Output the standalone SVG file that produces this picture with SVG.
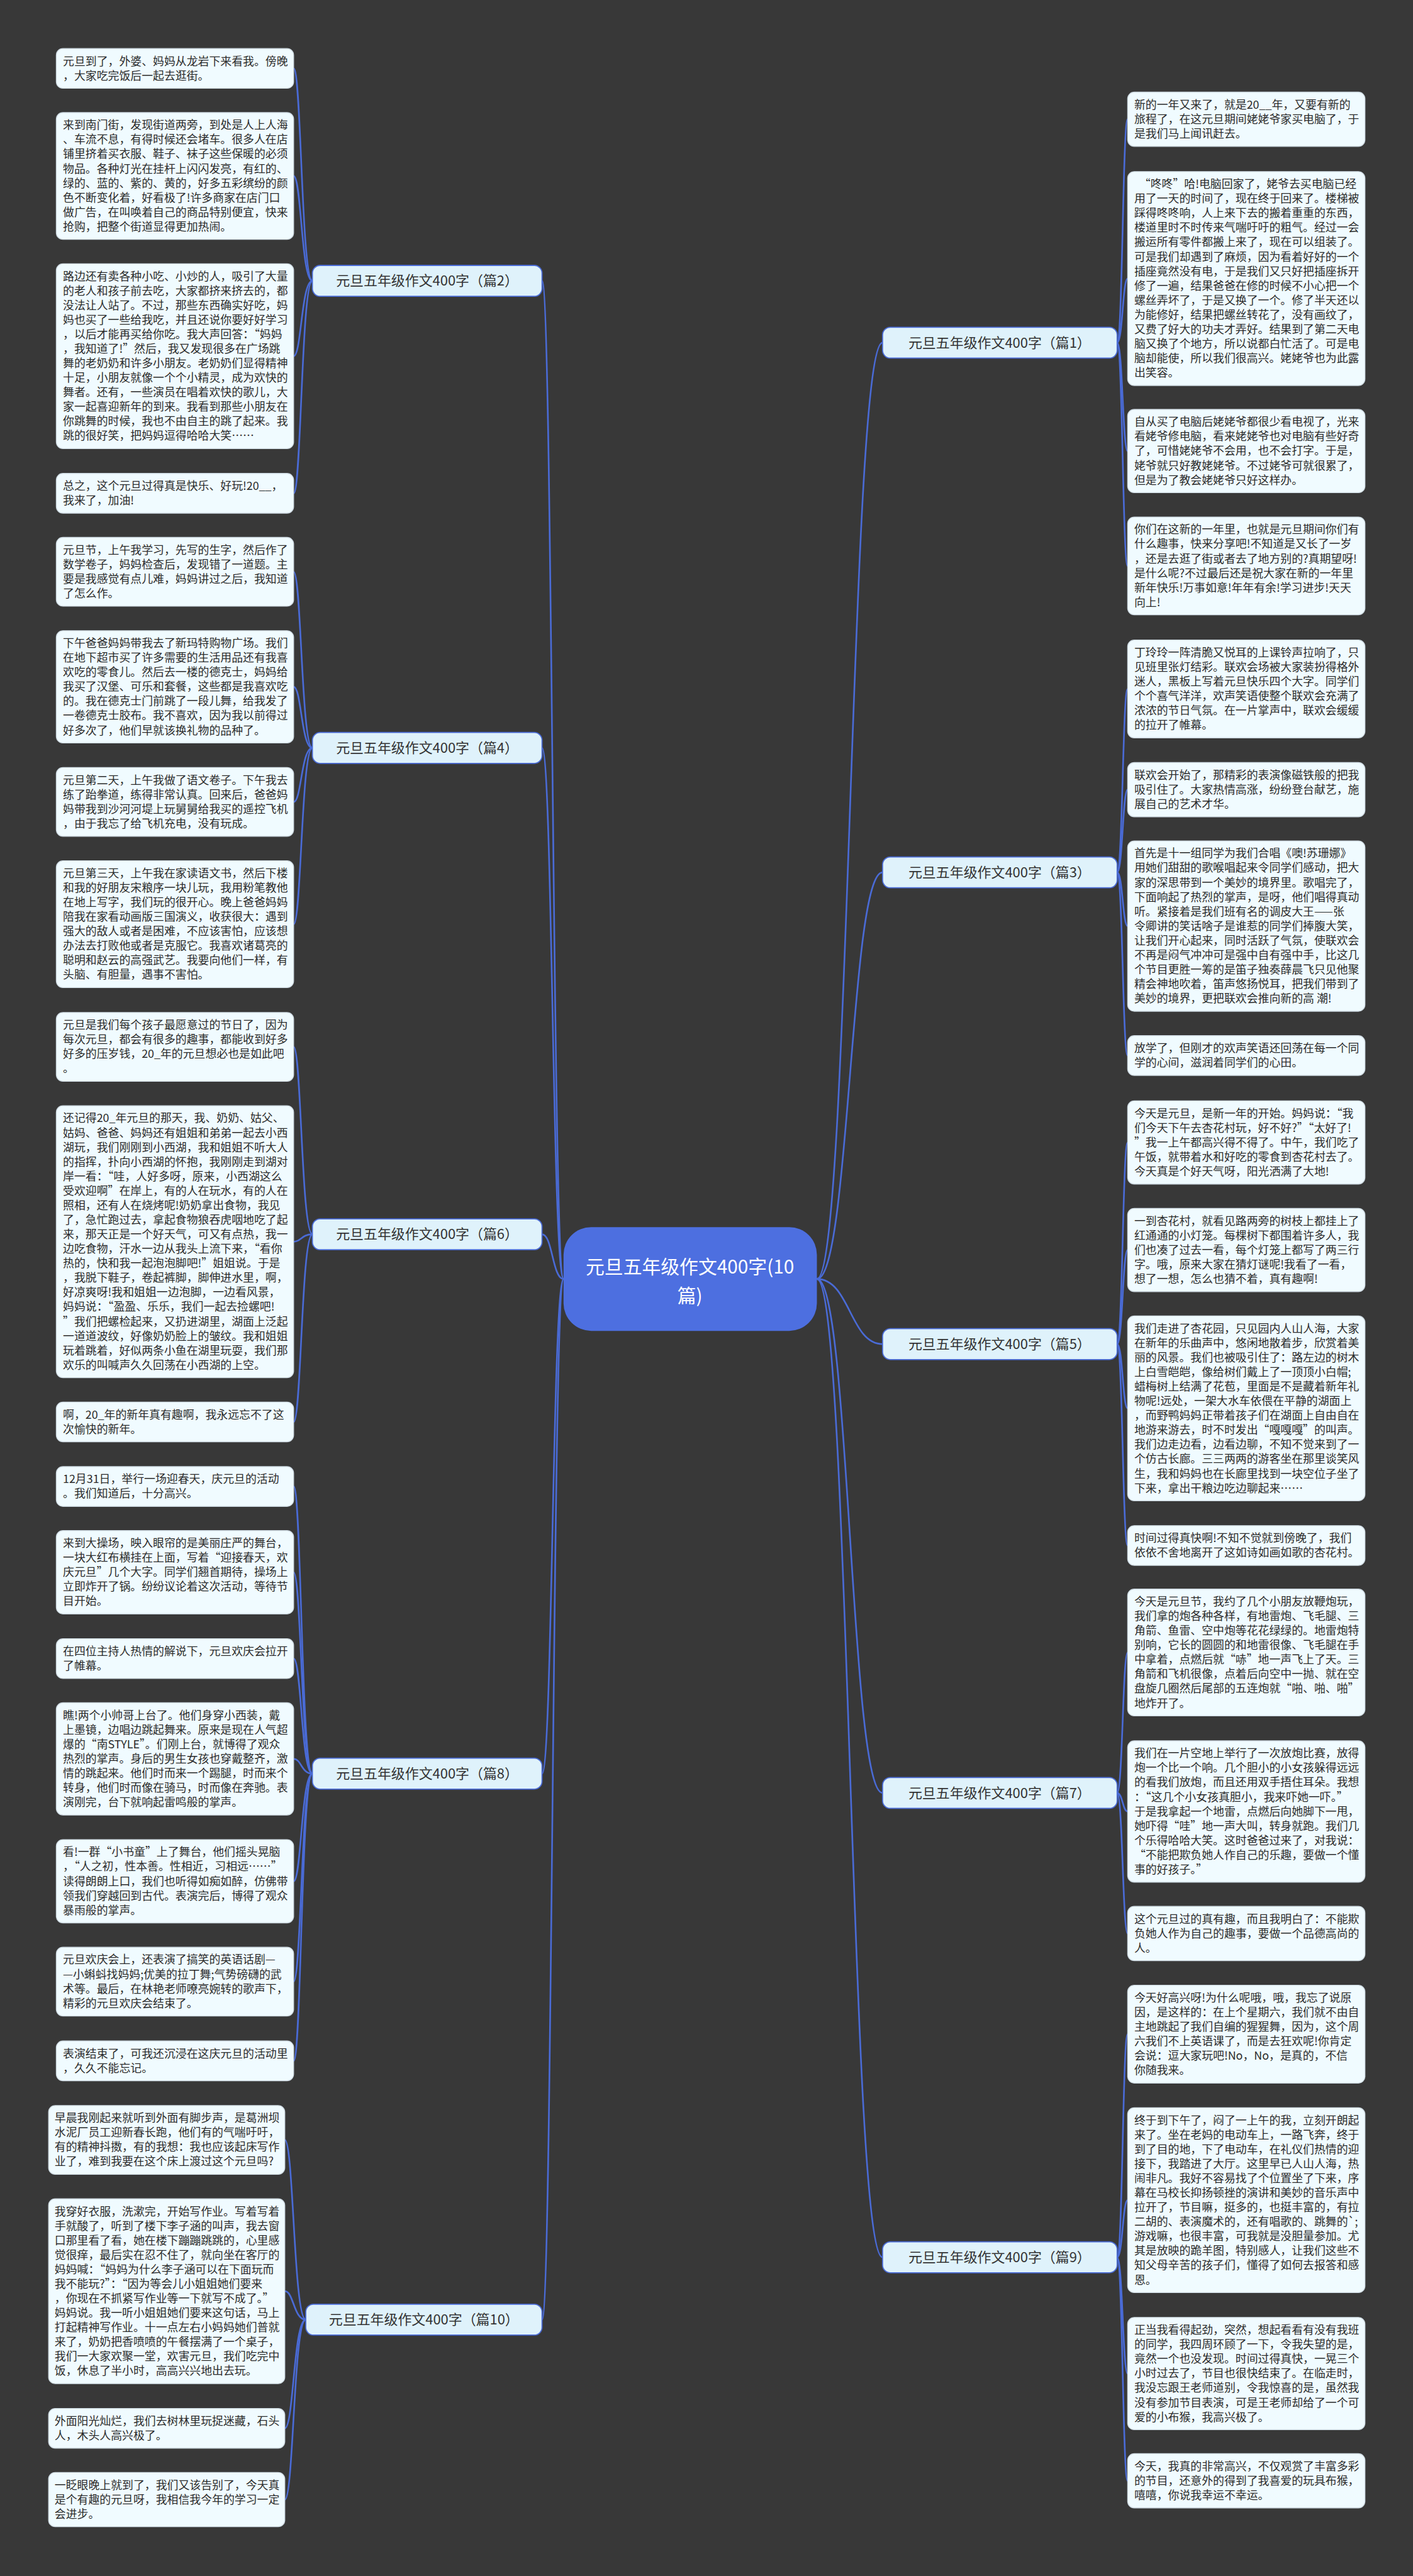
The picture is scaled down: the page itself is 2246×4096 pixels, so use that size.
<svg xmlns="http://www.w3.org/2000/svg" width="2246" height="4096" viewBox="0 0 2246 4096">
<style>
.bg{fill:#383838}
.leaf rect{fill:#f0fbff;stroke:#cfdbe3;stroke-width:1.5}
.t{font-family:"Noto Sans CJK SC","Noto Sans",sans-serif;font-size:20.4px;fill:#2b2b2b}
.pill rect{fill:#dff2fb;stroke:#4a6bd6;stroke-width:2}
.pt{font-family:"Noto Sans CJK SC","Noto Sans",sans-serif;font-size:25px;fill:#333;text-anchor:middle}
.ct{font-family:"Noto Sans CJK SC","Noto Sans",sans-serif;font-size:34px;fill:#fff;text-anchor:middle}
.conn path{fill:none;stroke:#4a6bd6;stroke-width:3}
</style>
<rect class="bg" x="0" y="0" width="2246" height="4096"/>
<g transform="scale(0.87734)">
<g class="conn" id="connectors">
<!-- center to pills -->
<path d="M1021 2318 C1001 2318 1001 509 982 509"/>
<path d="M1021 2318 C1001 2318 1001 1355.5 982 1355.5"/>
<path d="M1021 2318 C1001 2318 1001 2237 982 2237"/>
<path d="M1021 2318 C1001 2318 1001 3214.5 982 3214.5"/>
<path d="M1021 2318 C1001 2318 1001 4204 982 4204"/>
<path d="M1480 2318 C1540 2318 1540 621 1599 621"/>
<path d="M1480 2318 C1540 2318 1540 1581 1599 1581"/>
<path d="M1480 2318 C1540 2318 1540 2436 1599 2436"/>
<path d="M1480 2318 C1540 2318 1540 3249.5 1599 3249.5"/>
<path d="M1480 2318 C1540 2318 1540 4091 1599 4091"/>
<!-- left leaves -->
<path d="M566 509 C546 509 546 124 532 124"/>
<path d="M566 509 C546 509 546 319 532 319"/>
<path d="M566 509 C546 509 546 645.5 532 645.5"/>
<path d="M566 509 C546 509 546 894 532 894"/>
<path d="M566 1355.5 C546 1355.5 546 1036.4 532 1036.4"/>
<path d="M566 1355.5 C546 1355.5 546 1244.8 532 1244.8"/>
<path d="M566 1355.5 C546 1355.5 546 1453.4 532 1453.4"/>
<path d="M566 1355.5 C546 1355.5 546 1675 532 1675"/>
<path d="M566 2237 C546 2237 546 1897.4 532 1897.4"/>
<path d="M566 2237 C546 2237 546 2250.5 532 2250.5"/>
<path d="M566 2237 C546 2237 546 2577 532 2577"/>
<path d="M566 3214.5 C546 3214.5 546 2694 532 2694"/>
<path d="M566 3214.5 C546 3214.5 546 2849.5 532 2849.5"/>
<path d="M566 3214.5 C546 3214.5 546 3006 532 3006"/>
<path d="M566 3214.5 C546 3214.5 546 3187.8 532 3187.8"/>
<path d="M566 3214.5 C546 3214.5 546 3409.5 532 3409.5"/>
<path d="M566 3214.5 C546 3214.5 546 3591.4 532 3591.4"/>
<path d="M566 3214.5 C546 3214.5 546 3735 532 3735"/>
<path d="M554 4204 C532 4204 532 3878.4 516 3878.4"/>
<path d="M554 4204 C532 4204 532 4152.5 516 4152.5"/>
<path d="M554 4204 C532 4204 532 4401 516 4401"/>
<path d="M554 4204 C532 4204 532 4530.2 516 4530.2"/>
<!-- right leaves -->
<path d="M2024 621 C2034 621 2034 216.2 2043 216.2"/>
<path d="M2024 621 C2034 621 2034 504.9 2043 504.9"/>
<path d="M2024 621 C2034 621 2034 817.5 2043 817.5"/>
<path d="M2024 621 C2034 621 2034 1025.7 2043 1025.7"/>
<path d="M2024 1581 C2034 1581 2034 1248.7 2043 1248.7"/>
<path d="M2024 1581 C2034 1581 2034 1431.2 2043 1431.2"/>
<path d="M2024 1581 C2034 1581 2034 1678.4 2043 1678.4"/>
<path d="M2024 1581 C2034 1581 2034 1913 2043 1913"/>
<path d="M2024 2436 C2034 2436 2034 2070.5 2043 2070.5"/>
<path d="M2024 2436 C2034 2436 2034 2265.5 2043 2265.5"/>
<path d="M2024 2436 C2034 2436 2034 2552.5 2043 2552.5"/>
<path d="M2024 2436 C2034 2436 2034 2801 2043 2801"/>
<path d="M2024 3249.5 C2034 3249.5 2034 2995 2043 2995"/>
<path d="M2024 3249.5 C2034 3249.5 2034 3283.1 2043 3283.1"/>
<path d="M2024 3249.5 C2034 3249.5 2034 3504.2 2043 3504.2"/>
<path d="M2024 4091 C2034 4091 2034 3686.7 2043 3686.7"/>
<path d="M2024 4091 C2034 4091 2034 3987.5 2043 3987.5"/>
<path d="M2024 4091 C2034 4091 2034 4301.8 2043 4301.8"/>
<path d="M2024 4091 C2034 4091 2034 4496.2 2043 4496.2"/>
</g>

<g id="center">
<rect x="1021" y="2224" width="459" height="188" rx="50" fill="#4d6fe0"/>
<text class="ct" x="1250" y="2308">元旦五年级作文400字(10</text>
<text class="ct" x="1250" y="2360">篇)</text>
</g>

<g id="b2" class="pill"><rect x="566" y="481" width="416" height="56" rx="14"/><text class="pt" x="774" y="518">元旦五年级作文400字（篇2）</text></g>
<g id="b4" class="pill"><rect x="566" y="1327.5" width="416" height="56" rx="14"/><text class="pt" x="774" y="1364.5">元旦五年级作文400字（篇4）</text></g>
<g id="b6" class="pill"><rect x="566" y="2209" width="416" height="56" rx="14"/><text class="pt" x="774" y="2246">元旦五年级作文400字（篇6）</text></g>
<g id="b8" class="pill"><rect x="566" y="3186.5" width="416" height="56" rx="14"/><text class="pt" x="774" y="3223.5">元旦五年级作文400字（篇8）</text></g>
<g id="b10" class="pill"><rect x="554" y="4176" width="428" height="56" rx="14"/><text class="pt" x="768" y="4213">元旦五年级作文400字（篇10）</text></g>
<g id="b1" class="pill"><rect x="1599" y="593" width="425" height="56" rx="14"/><text class="pt" x="1811" y="630">元旦五年级作文400字（篇1）</text></g>
<g id="b3" class="pill"><rect x="1599" y="1553" width="425" height="56" rx="14"/><text class="pt" x="1811" y="1590">元旦五年级作文400字（篇3）</text></g>
<g id="b5" class="pill"><rect x="1599" y="2408" width="425" height="56" rx="14"/><text class="pt" x="1811" y="2445">元旦五年级作文400字（篇5）</text></g>
<g id="b7" class="pill"><rect x="1599" y="3221.5" width="425" height="56" rx="14"/><text class="pt" x="1811" y="3258.5">元旦五年级作文400字（篇7）</text></g>
<g id="b9" class="pill"><rect x="1599" y="4063" width="425" height="56" rx="14"/><text class="pt" x="1811" y="4100">元旦五年级作文400字（篇9）</text></g>

<!-- LEFT LEAVES -->
<g id="l2-1" class="leaf"><rect x="102" y="88" width="430" height="72.1" rx="12"/><text class="t" x="114" y="118"><tspan x="114">元旦到了，外婆、妈妈从龙岩下来看我。傍晚</tspan><tspan x="114" dy="26.3">，大家吃完饭后一起去逛街。</tspan></text></g>
<g id="l2-2" class="leaf"><rect x="102" y="204" width="430" height="229.9" rx="12"/><text class="t" x="114" y="234"><tspan x="114">来到南门街，发现街道两旁，到处是人上人海</tspan><tspan x="114" dy="26.3">、车流不息，有得时候还会堵车。很多人在店</tspan><tspan x="114" dy="26.3">铺里挤着买衣服、鞋子、袜子这些保暖的必须</tspan><tspan x="114" dy="26.3">物品。各种灯光在挂杆上闪闪发亮，有红的、</tspan><tspan x="114" dy="26.3">绿的、蓝的、紫的、黄的，好多五彩缤纷的颜</tspan><tspan x="114" dy="26.3">色不断变化着，好看极了!许多商家在店门口</tspan><tspan x="114" dy="26.3">做广告，在叫唤着自己的商品特别便宜，快来</tspan><tspan x="114" dy="26.3">抢购，把整个街道显得更加热闹。</tspan></text></g>
<g id="l2-3" class="leaf"><rect x="102" y="478" width="430" height="335.1" rx="12"/><text class="t" x="114" y="508"><tspan x="114">路边还有卖各种小吃、小炒的人，吸引了大量</tspan><tspan x="114" dy="26.3">的老人和孩子前去吃，大家都挤来挤去的，都</tspan><tspan x="114" dy="26.3">没法让人站了。不过，那些东西确实好吃，妈</tspan><tspan x="114" dy="26.3">妈也买了一些给我吃，并且还说你要好好学习</tspan><tspan x="114" dy="26.3">，以后才能再买给你吃。我大声回答：“妈妈</tspan><tspan x="114" dy="26.3">，我知道了!”然后，我又发现很多在广场跳</tspan><tspan x="114" dy="26.3">舞的老奶奶和许多小朋友。老奶奶们显得精神</tspan><tspan x="114" dy="26.3">十足，小朋友就像一个个小精灵，成为欢快的</tspan><tspan x="114" dy="26.3">舞者。还有，一些演员在唱着欢快的歌儿，大</tspan><tspan x="114" dy="26.3">家一起喜迎新年的到来。我看到那些小朋友在</tspan><tspan x="114" dy="26.3">你跳舞的时候，我也不由自主的跳了起来。我</tspan><tspan x="114" dy="26.3">跳的很好笑，把妈妈逗得哈哈大笑……</tspan></text></g>
<g id="l2-4" class="leaf"><rect x="102" y="858" width="430" height="72.1" rx="12"/><text class="t" x="114" y="888"><tspan x="114">总之，这个元旦过得真是快乐、好玩!20__，</tspan><tspan x="114" dy="26.3">我来了，加油!</tspan></text></g>

<g id="l4-1" class="leaf"><rect x="102" y="974" width="430" height="124.7" rx="12"/><text class="t" x="114" y="1004"><tspan x="114">元旦节，上午我学习，先写的生字，然后作了</tspan><tspan x="114" dy="26.3">数学卷子，妈妈检查后，发现错了一道题。主</tspan><tspan x="114" dy="26.3">要是我感觉有点儿难，妈妈讲过之后，我知道</tspan><tspan x="114" dy="26.3">了怎么作。</tspan></text></g>
<g id="l4-2" class="leaf"><rect x="102" y="1143" width="430" height="203.6" rx="12"/><text class="t" x="114" y="1173"><tspan x="114">下午爸爸妈妈带我去了新玛特购物广场。我们</tspan><tspan x="114" dy="26.3">在地下超市买了许多需要的生活用品还有我喜</tspan><tspan x="114" dy="26.3">欢吃的零食儿。然后去一楼的德克士，妈妈给</tspan><tspan x="114" dy="26.3">我买了汉堡、可乐和套餐，这些都是我喜欢吃</tspan><tspan x="114" dy="26.3">的。我在德克士门前跳了一段儿舞，给我发了</tspan><tspan x="114" dy="26.3">一卷德克士胶布。我不喜欢，因为我以前得过</tspan><tspan x="114" dy="26.3">好多次了，他们早就该换礼物的品种了。</tspan></text></g>
<g id="l4-3" class="leaf"><rect x="102" y="1391" width="430" height="124.7" rx="12"/><text class="t" x="114" y="1421"><tspan x="114">元旦第二天，上午我做了语文卷子。下午我去</tspan><tspan x="114" dy="26.3">练了跆拳道，练得非常认真。回来后，爸爸妈</tspan><tspan x="114" dy="26.3">妈带我到沙河河堤上玩舅舅给我买的遥控飞机</tspan><tspan x="114" dy="26.3">，由于我忘了给飞机充电，没有玩成。</tspan></text></g>
<g id="l4-4" class="leaf"><rect x="102" y="1560" width="430" height="229.9" rx="12"/><text class="t" x="114" y="1590"><tspan x="114">元旦第三天，上午我在家读语文书，然后下楼</tspan><tspan x="114" dy="26.3">和我的好朋友宋粮序一块儿玩，我用粉笔教他</tspan><tspan x="114" dy="26.3">在地上写字，我们玩的很开心。晚上爸爸妈妈</tspan><tspan x="114" dy="26.3">陪我在家看动画版三国演义，收获很大：遇到</tspan><tspan x="114" dy="26.3">强大的敌人或者是困难，不应该害怕，应该想</tspan><tspan x="114" dy="26.3">办法去打败他或者是克服它。我喜欢诸葛亮的</tspan><tspan x="114" dy="26.3">聪明和赵云的高强武艺。我要向他们一样，有</tspan><tspan x="114" dy="26.3">头脑、有胆量，遇事不害怕。</tspan></text></g>

<g id="l6-1" class="leaf"><rect x="102" y="1835" width="430" height="124.7" rx="12"/><text class="t" x="114" y="1865"><tspan x="114">元旦是我们每个孩子最愿意过的节日了，因为</tspan><tspan x="114" dy="26.3">每次元旦，都会有很多的趣事，都能收到好多</tspan><tspan x="114" dy="26.3">好多的压岁钱，20_年的元旦想必也是如此吧</tspan><tspan x="114" dy="26.3">。</tspan></text></g>
<g id="l6-2" class="leaf"><rect x="102" y="2004" width="430" height="492.9" rx="12"/><text class="t" x="114" y="2034"><tspan x="114">还记得20_年元旦的那天，我、奶奶、姑父、</tspan><tspan x="114" dy="26.3">姑妈、爸爸、妈妈还有姐姐和弟弟一起去小西</tspan><tspan x="114" dy="26.3">湖玩，我们刚刚到小西湖，我和姐姐不听大人</tspan><tspan x="114" dy="26.3">的指挥，扑向小西湖的怀抱，我刚刚走到湖对</tspan><tspan x="114" dy="26.3">岸一看：“哇，人好多呀，原来，小西湖这么</tspan><tspan x="114" dy="26.3">受欢迎啊”在岸上，有的人在玩水，有的人在</tspan><tspan x="114" dy="26.3">照相，还有人在烧烤呢!奶奶拿出食物，我见</tspan><tspan x="114" dy="26.3">了，急忙跑过去，拿起食物狼吞虎咽地吃了起</tspan><tspan x="114" dy="26.3">来，那天正是一个好天气，可又有点热，我一</tspan><tspan x="114" dy="26.3">边吃食物，汗水一边从我头上流下来，“看你</tspan><tspan x="114" dy="26.3">热的，快和我一起泡泡脚吧!”姐姐说。于是</tspan><tspan x="114" dy="26.3">，我脱下鞋子，卷起裤脚，脚伸进水里，啊，</tspan><tspan x="114" dy="26.3">好凉爽呀!我和姐姐一边泡脚，一边看风景，</tspan><tspan x="114" dy="26.3">妈妈说：“盈盈、乐乐，我们一起去捡螺吧!</tspan><tspan x="114" dy="26.3">”我们把螺检起来，又扔进湖里，湖面上泛起</tspan><tspan x="114" dy="26.3">一道道波纹，好像奶奶脸上的皱纹。我和姐姐</tspan><tspan x="114" dy="26.3">玩着跳着，好似两条小鱼在湖里玩耍，我们那</tspan><tspan x="114" dy="26.3">欢乐的叫喊声久久回荡在小西湖的上空。</tspan></text></g>
<g id="l6-3" class="leaf"><rect x="102" y="2541" width="430" height="72.1" rx="12"/><text class="t" x="114" y="2571"><tspan x="114">啊，20_年的新年真有趣啊，我永远忘不了这</tspan><tspan x="114" dy="26.3">次愉快的新年。</tspan></text></g>

<g id="l8-1" class="leaf"><rect x="102" y="2658" width="430" height="72.1" rx="12"/><text class="t" x="114" y="2688"><tspan x="114">12月31日，举行一场迎春天，庆元旦的活动</tspan><tspan x="114" dy="26.3">。我们知道后，十分高兴。</tspan></text></g>
<g id="l8-2" class="leaf"><rect x="102" y="2774" width="430" height="151" rx="12"/><text class="t" x="114" y="2804"><tspan x="114">来到大操场，映入眼帘的是美丽庄严的舞台，</tspan><tspan x="114" dy="26.3">一块大红布横挂在上面，写着“迎接春天，欢</tspan><tspan x="114" dy="26.3">庆元旦”几个大字。同学们翘首期待，操场上</tspan><tspan x="114" dy="26.3">立即炸开了锅。纷纷议论着这次活动，等待节</tspan><tspan x="114" dy="26.3">目开始。</tspan></text></g>
<g id="l8-3" class="leaf"><rect x="102" y="2970" width="430" height="72.1" rx="12"/><text class="t" x="114" y="3000"><tspan x="114">在四位主持人热情的解说下，元旦欢庆会拉开</tspan><tspan x="114" dy="26.3">了帷幕。</tspan></text></g>
<g id="l8-4" class="leaf"><rect x="102" y="3086" width="430" height="203.6" rx="12"/><text class="t" x="114" y="3116"><tspan x="114">瞧!两个小帅哥上台了。他们身穿小西装，戴</tspan><tspan x="114" dy="26.3">上墨镜，边唱边跳起舞来。原来是现在人气超</tspan><tspan x="114" dy="26.3">爆的“南STYLE”。们刚上台，就博得了观众</tspan><tspan x="114" dy="26.3">热烈的掌声。身后的男生女孩也穿戴整齐，激</tspan><tspan x="114" dy="26.3">情的跳起来。他们时而来一个踢腿，时而来个</tspan><tspan x="114" dy="26.3">转身，他们时而像在骑马，时而像在奔驰。表</tspan><tspan x="114" dy="26.3">演刚完，台下就响起雷鸣般的掌声。</tspan></text></g>
<g id="l8-5" class="leaf"><rect x="102" y="3334" width="430" height="151" rx="12"/><text class="t" x="114" y="3364"><tspan x="114">看!一群“小书童”上了舞台，他们摇头晃脑</tspan><tspan x="114" dy="26.3">，“人之初，性本善。性相近，习相远……”</tspan><tspan x="114" dy="26.3">读得朗朗上口，我们也听得如痴如醉，仿佛带</tspan><tspan x="114" dy="26.3">领我们穿越回到古代。表演完后，博得了观众</tspan><tspan x="114" dy="26.3">暴雨般的掌声。</tspan></text></g>
<g id="l8-6" class="leaf"><rect x="102" y="3529" width="430" height="124.7" rx="12"/><text class="t" x="114" y="3559"><tspan x="114">元旦欢庆会上，还表演了搞笑的英语话剧—</tspan><tspan x="114" dy="26.3">—小蝌蚪找妈妈;优美的拉丁舞;气势磅礴的武</tspan><tspan x="114" dy="26.3">术等。最后，在林艳老师嘹亮婉转的歌声下，</tspan><tspan x="114" dy="26.3">精彩的元旦欢庆会结束了。</tspan></text></g>
<g id="l8-7" class="leaf"><rect x="102" y="3699" width="430" height="72.1" rx="12"/><text class="t" x="114" y="3729"><tspan x="114">表演结束了，可我还沉浸在这庆元旦的活动里</tspan><tspan x="114" dy="26.3">，久久不能忘记。</tspan></text></g>

<g id="l10-1" class="leaf"><rect x="88" y="3816" width="428" height="124.7" rx="12"/><text class="t" x="99" y="3846"><tspan x="99">早晨我刚起来就听到外面有脚步声，是葛洲坝</tspan><tspan x="99" dy="26.3">水泥厂员工迎新春长跑，他们有的气喘吁吁，</tspan><tspan x="99" dy="26.3">有的精神抖擞，有的我想：我也应该起床写作</tspan><tspan x="99" dy="26.3">业了，难到我要在这个床上渡过这个元旦吗?</tspan></text></g>
<g id="l10-2" class="leaf"><rect x="88" y="3985" width="428" height="335.1" rx="12"/><text class="t" x="99" y="4015"><tspan x="99">我穿好衣服，洗漱完，开始写作业。写着写着</tspan><tspan x="99" dy="26.3">手就酸了，听到了楼下李子涵的叫声，我去窗</tspan><tspan x="99" dy="26.3">口那里看了看，她在楼下蹦蹦跳跳的，心里感</tspan><tspan x="99" dy="26.3">觉很痒，最后实在忍不住了，就向坐在客厅的</tspan><tspan x="99" dy="26.3">妈妈喊：“妈妈为什么李子涵可以在下面玩而</tspan><tspan x="99" dy="26.3">我不能玩?”：“因为等会儿小姐姐她们要来</tspan><tspan x="99" dy="26.3">，你现在不抓紧写作业等一下就写不成了。”</tspan><tspan x="99" dy="26.3">妈妈说。我一听小姐姐她们要来这句话，马上</tspan><tspan x="99" dy="26.3">打起精神写作业。十一点左右小妈妈她们普就</tspan><tspan x="99" dy="26.3">来了，奶奶把香喷喷的午餐摆满了一个桌子，</tspan><tspan x="99" dy="26.3">我们一大家欢聚一堂，欢害元旦，我们吃完中</tspan><tspan x="99" dy="26.3">饭，休息了半小时，高高兴兴地出去玩。</tspan></text></g>
<g id="l10-3" class="leaf"><rect x="88" y="4365" width="428" height="72.1" rx="12"/><text class="t" x="99" y="4395"><tspan x="99">外面阳光灿烂，我们去树林里玩捉迷藏，石头</tspan><tspan x="99" dy="26.3">人，木头人高兴极了。</tspan></text></g>
<g id="l10-4" class="leaf"><rect x="88" y="4481" width="428" height="98.4" rx="12"/><text class="t" x="99" y="4511"><tspan x="99">一眨眼晚上就到了，我们又该告别了，今天真</tspan><tspan x="99" dy="26.3">是个有趣的元旦呀，我相信我今年的学习一定</tspan><tspan x="99" dy="26.3">会进步。</tspan></text></g>

<!-- RIGHT LEAVES -->
<g id="r1-1" class="leaf"><rect x="2043" y="167" width="430" height="98.4" rx="12"/><text class="t" x="2055" y="197"><tspan x="2055">新的一年又来了，就是20__年，又要有新的</tspan><tspan x="2055" dy="26.3">旅程了，在这元旦期间姥姥爷家买电脑了，于</tspan><tspan x="2055" dy="26.3">是我们马上闻讯赶去。</tspan></text></g>
<g id="r1-2" class="leaf"><rect x="2043" y="311" width="430" height="387.7" rx="12"/><text class="t" x="2055" y="341"><tspan x="2064">“咚咚”哈!电脑回家了，姥爷去买电脑已经</tspan><tspan x="2055" dy="26.3">用了一天的时间了，现在终于回来了。楼梯被</tspan><tspan x="2055" dy="26.3">踩得咚咚响，人上来下去的搬着重重的东西，</tspan><tspan x="2055" dy="26.3">楼道里时不时传来气喘吁吁的粗气。经过一会</tspan><tspan x="2055" dy="26.3">搬运所有零件都搬上来了，现在可以组装了。</tspan><tspan x="2055" dy="26.3">可是我们却遇到了麻烦，因为看着好好的一个</tspan><tspan x="2055" dy="26.3">插座竟然没有电，于是我们又只好把插座拆开</tspan><tspan x="2055" dy="26.3">修了一遍，结果爸爸在修的时候不小心把一个</tspan><tspan x="2055" dy="26.3">螺丝弄坏了，于是又换了一个。修了半天还以</tspan><tspan x="2055" dy="26.3">为能修好，结果把螺丝转花了，没有画纹了，</tspan><tspan x="2055" dy="26.3">又费了好大的功夫才弄好。结果到了第二天电</tspan><tspan x="2055" dy="26.3">脑又换了个地方，所以说都白忙活了。可是电</tspan><tspan x="2055" dy="26.3">脑却能使，所以我们很高兴。姥姥爷也为此露</tspan><tspan x="2055" dy="26.3">出笑容。</tspan></text></g>
<g id="r1-3" class="leaf"><rect x="2043" y="742" width="430" height="151" rx="12"/><text class="t" x="2055" y="772"><tspan x="2055">自从买了电脑后姥姥爷都很少看电视了，光来</tspan><tspan x="2055" dy="26.3">看姥爷修电脑，看来姥姥爷也对电脑有些好奇</tspan><tspan x="2055" dy="26.3">了，可惜姥姥爷不会用，也不会打字。于是，</tspan><tspan x="2055" dy="26.3">姥爷就只好教姥姥爷。不过姥爷可就很累了，</tspan><tspan x="2055" dy="26.3">但是为了教会姥姥爷只好这样办。</tspan></text></g>
<g id="r1-4" class="leaf"><rect x="2043" y="937" width="430" height="177.3" rx="12"/><text class="t" x="2055" y="967"><tspan x="2055">你们在这新的一年里，也就是元旦期间你们有</tspan><tspan x="2055" dy="26.3">什么趣事，快来分享吧!不知道是又长了一岁</tspan><tspan x="2055" dy="26.3">，还是去逛了街或者去了地方别的?真期望呀!</tspan><tspan x="2055" dy="26.3">是什么呢?不过最后还是祝大家在新的一年里</tspan><tspan x="2055" dy="26.3">新年快乐!万事如意!年年有余!学习进步!天天</tspan><tspan x="2055" dy="26.3">向上!</tspan></text></g>

<g id="r3-1" class="leaf"><rect x="2043" y="1160" width="430" height="177.3" rx="12"/><text class="t" x="2055" y="1190"><tspan x="2055">丁玲玲一阵清脆又悦耳的上课铃声拉响了，只</tspan><tspan x="2055" dy="26.3">见班里张灯结彩。联欢会场被大家装扮得格外</tspan><tspan x="2055" dy="26.3">迷人，黑板上写着元旦快乐四个大字。同学们</tspan><tspan x="2055" dy="26.3">个个喜气洋洋，欢声笑语使整个联欢会充满了</tspan><tspan x="2055" dy="26.3">浓浓的节日气氛。在一片掌声中，联欢会缓缓</tspan><tspan x="2055" dy="26.3">的拉开了帷幕。</tspan></text></g>
<g id="r3-2" class="leaf"><rect x="2043" y="1382" width="430" height="98.4" rx="12"/><text class="t" x="2055" y="1412"><tspan x="2055">联欢会开始了，那精彩的表演像磁铁般的把我</tspan><tspan x="2055" dy="26.3">吸引住了。大家热情高涨，纷纷登台献艺，施</tspan><tspan x="2055" dy="26.3">展自己的艺术才华。</tspan></text></g>
<g id="r3-3" class="leaf"><rect x="2043" y="1524" width="430" height="308.8" rx="12"/><text class="t" x="2055" y="1554"><tspan x="2055">首先是十一组同学为我们合唱《噢!苏珊娜》</tspan><tspan x="2055" dy="26.3">用她们甜甜的歌喉唱起来令同学们感动，把大</tspan><tspan x="2055" dy="26.3">家的深思带到一个美妙的境界里。歌唱完了，</tspan><tspan x="2055" dy="26.3">下面响起了热烈的掌声，是呀，他们唱得真动</tspan><tspan x="2055" dy="26.3">听。紧接着是我们班有名的调皮大王——张</tspan><tspan x="2055" dy="26.3">令卿讲的笑话啥子是谁惹的同学们捧腹大笑，</tspan><tspan x="2055" dy="26.3">让我们开心起来，同时活跃了气氛，使联欢会</tspan><tspan x="2055" dy="26.3">不再是闷气冲冲可是强中自有强中手，比这几</tspan><tspan x="2055" dy="26.3">个节目更胜一筹的是笛子独奏薛晨飞只见他聚</tspan><tspan x="2055" dy="26.3">精会神地吹着，笛声悠扬悦耳，把我们带到了</tspan><tspan x="2055" dy="26.3">美妙的境界，更把联欢会推向新的高 潮!</tspan></text></g>
<g id="r3-4" class="leaf"><rect x="2043" y="1877" width="430" height="72.1" rx="12"/><text class="t" x="2055" y="1907"><tspan x="2055">放学了，但刚才的欢声笑语还回荡在每一个同</tspan><tspan x="2055" dy="26.3">学的心间，滋润着同学们的心田。</tspan></text></g>

<g id="r5-1" class="leaf"><rect x="2043" y="1995" width="430" height="151" rx="12"/><text class="t" x="2055" y="2025"><tspan x="2055">今天是元旦，是新一年的开始。妈妈说：“我</tspan><tspan x="2055" dy="26.3">们今天下午去杏花村玩，好不好?”“太好了!</tspan><tspan x="2055" dy="26.3">”我一上午都高兴得不得了。中午，我们吃了</tspan><tspan x="2055" dy="26.3">午饭，就带着水和好吃的零食到杏花村去了。</tspan><tspan x="2055" dy="26.3">今天真是个好天气呀，阳光洒满了大地!</tspan></text></g>
<g id="r5-2" class="leaf"><rect x="2043" y="2190" width="430" height="151" rx="12"/><text class="t" x="2055" y="2220"><tspan x="2055">一到杏花村，就看见路两旁的树枝上都挂上了</tspan><tspan x="2055" dy="26.3">红通通的小灯笼。每棵树下都围着许多人，我</tspan><tspan x="2055" dy="26.3">们也凑了过去一看，每个灯笼上都写了两三行</tspan><tspan x="2055" dy="26.3">字。哦，原来大家在猜灯谜呢!我看了一看，</tspan><tspan x="2055" dy="26.3">想了一想，怎么也猜不着，真有趣啊!</tspan></text></g>
<g id="r5-3" class="leaf"><rect x="2043" y="2385" width="430" height="335.1" rx="12"/><text class="t" x="2055" y="2415"><tspan x="2055">我们走进了杏花园，只见园内人山人海，大家</tspan><tspan x="2055" dy="26.3">在新年的乐曲声中，悠闲地散着步，欣赏着美</tspan><tspan x="2055" dy="26.3">丽的风景。我们也被吸引住了：路左边的树木</tspan><tspan x="2055" dy="26.3">上白雪皑皑，像给树们戴上了一顶顶小白帽;</tspan><tspan x="2055" dy="26.3">蜡梅树上结满了花苞，里面是不是藏着新年礼</tspan><tspan x="2055" dy="26.3">物呢!远处，一架大水车依偎在平静的湖面上</tspan><tspan x="2055" dy="26.3">，而野鸭妈妈正带着孩子们在湖面上自由自在</tspan><tspan x="2055" dy="26.3">地游来游去，时不时发出“嘎嘎嘎”的叫声。</tspan><tspan x="2055" dy="26.3">我们边走边看，边看边聊，不知不觉来到了一</tspan><tspan x="2055" dy="26.3">个仿古长廊。三三两两的游客坐在那里谈笑风</tspan><tspan x="2055" dy="26.3">生，我和妈妈也在长廊里找到一块空位子坐了</tspan><tspan x="2055" dy="26.3">下来，拿出干粮边吃边聊起来……</tspan></text></g>
<g id="r5-4" class="leaf"><rect x="2043" y="2765" width="430" height="72.1" rx="12"/><text class="t" x="2055" y="2795"><tspan x="2055">时间过得真快啊!不知不觉就到傍晚了，我们</tspan><tspan x="2055" dy="26.3">依依不舍地离开了这如诗如画如歌的杏花村。</tspan></text></g>

<g id="r7-1" class="leaf"><rect x="2043" y="2880" width="430" height="229.9" rx="12"/><text class="t" x="2055" y="2910"><tspan x="2055">今天是元旦节，我约了几个小朋友放鞭炮玩，</tspan><tspan x="2055" dy="26.3">我们拿的炮各种各样，有地雷炮、飞毛腿、三</tspan><tspan x="2055" dy="26.3">角箭、鱼雷、空中炮等花花绿绿的。地雷炮特</tspan><tspan x="2055" dy="26.3">别响，它长的圆圆的和地雷很像、飞毛腿在手</tspan><tspan x="2055" dy="26.3">中拿着，点燃后就“哧”地一声飞上了天。三</tspan><tspan x="2055" dy="26.3">角箭和飞机很像，点着后向空中一抛、就在空</tspan><tspan x="2055" dy="26.3">盘旋几圈然后尾部的五连炮就“啪、啪、啪”</tspan><tspan x="2055" dy="26.3">地炸开了。</tspan></text></g>
<g id="r7-2" class="leaf"><rect x="2043" y="3155" width="430" height="256.2" rx="12"/><text class="t" x="2055" y="3185"><tspan x="2055">我们在一片空地上举行了一次放炮比赛，放得</tspan><tspan x="2055" dy="26.3">炮一个比一个响。几个胆小的小女孩躲得远远</tspan><tspan x="2055" dy="26.3">的看我们放炮，而且还用双手捂住耳朵。我想</tspan><tspan x="2055" dy="26.3">：“这几个小女孩真胆小，我来吓她一吓。”</tspan><tspan x="2055" dy="26.3">于是我拿起一个地雷，点燃后向她脚下一甩，</tspan><tspan x="2055" dy="26.3">她吓得“哇”地一声大叫，转身就跑。我们几</tspan><tspan x="2055" dy="26.3">个乐得哈哈大笑。这时爸爸过来了，对我说：</tspan><tspan x="2055" dy="26.3">“不能把欺负她人作自己的乐趣，要做一个懂</tspan><tspan x="2055" dy="26.3">事的好孩子。”</tspan></text></g>
<g id="r7-3" class="leaf"><rect x="2043" y="3455" width="430" height="98.4" rx="12"/><text class="t" x="2055" y="3485"><tspan x="2055">这个元旦过的真有趣，而且我明白了：不能欺</tspan><tspan x="2055" dy="26.3">负她人作为自己的趣事，要做一个品德高尚的</tspan><tspan x="2055" dy="26.3">人。</tspan></text></g>

<g id="r9-1" class="leaf"><rect x="2043" y="3598" width="430" height="177.3" rx="12"/><text class="t" x="2055" y="3628"><tspan x="2055">今天好高兴呀!为什么呢哦，哦，我忘了说原</tspan><tspan x="2055" dy="26.3">因，是这样的：在上个星期六，我们就不由自</tspan><tspan x="2055" dy="26.3">主地跳起了我们自编的猩猩舞，因为，这个周</tspan><tspan x="2055" dy="26.3">六我们不上英语课了，而是去狂欢呢!你肯定</tspan><tspan x="2055" dy="26.3">会说：逗大家玩吧!No，No，是真的，不信</tspan><tspan x="2055" dy="26.3">你随我来。</tspan></text></g>
<g id="r9-2" class="leaf"><rect x="2043" y="3820" width="430" height="335.1" rx="12"/><text class="t" x="2055" y="3850"><tspan x="2055">终于到下午了，闷了一上午的我，立刻开朗起</tspan><tspan x="2055" dy="26.3">来了。坐在老妈的电动车上，一路飞奔，终于</tspan><tspan x="2055" dy="26.3">到了目的地，下了电动车，在礼仪们热情的迎</tspan><tspan x="2055" dy="26.3">接下，我踏进了大厅。这里早已人山人海，热</tspan><tspan x="2055" dy="26.3">闹非凡。我好不容易找了个位置坐了下来，序</tspan><tspan x="2055" dy="26.3">幕在马校长抑扬顿挫的演讲和美妙的音乐声中</tspan><tspan x="2055" dy="26.3">拉开了，节目嘛，挺多的，也挺丰富的，有拉</tspan><tspan x="2055" dy="26.3">二胡的、表演魔术的，还有唱歌的、跳舞的`;</tspan><tspan x="2055" dy="26.3">游戏嘛，也很丰富，可我就是没胆量参加。尤</tspan><tspan x="2055" dy="26.3">其是放映的跪羊图，特别感人，让我们这些不</tspan><tspan x="2055" dy="26.3">知父母辛苦的孩子们，懂得了如何去报答和感</tspan><tspan x="2055" dy="26.3">恩。</tspan></text></g>
<g id="r9-3" class="leaf"><rect x="2043" y="4200" width="430" height="203.6" rx="12"/><text class="t" x="2055" y="4230"><tspan x="2055">正当我看得起劲，突然，想起看看有没有我班</tspan><tspan x="2055" dy="26.3">的同学，我四周环顾了一下，令我失望的是，</tspan><tspan x="2055" dy="26.3">竟然一个也没发现。时间过得真快，一晃三个</tspan><tspan x="2055" dy="26.3">小时过去了，节目也很快结束了。在临走时，</tspan><tspan x="2055" dy="26.3">我没忘跟王老师道别，令我惊喜的是，虽然我</tspan><tspan x="2055" dy="26.3">没有参加节目表演，可是王老师却给了一个可</tspan><tspan x="2055" dy="26.3">爱的小布猴，我高兴极了。</tspan></text></g>
<g id="r9-4" class="leaf"><rect x="2043" y="4447" width="430" height="98.4" rx="12"/><text class="t" x="2055" y="4477"><tspan x="2055">今天，我真的非常高兴，不仅观赏了丰富多彩</tspan><tspan x="2055" dy="26.3">的节目，还意外的得到了我喜爱的玩具布猴，</tspan><tspan x="2055" dy="26.3">嘻嘻，你说我幸运不幸运。</tspan></text></g>
</g>
</svg>
